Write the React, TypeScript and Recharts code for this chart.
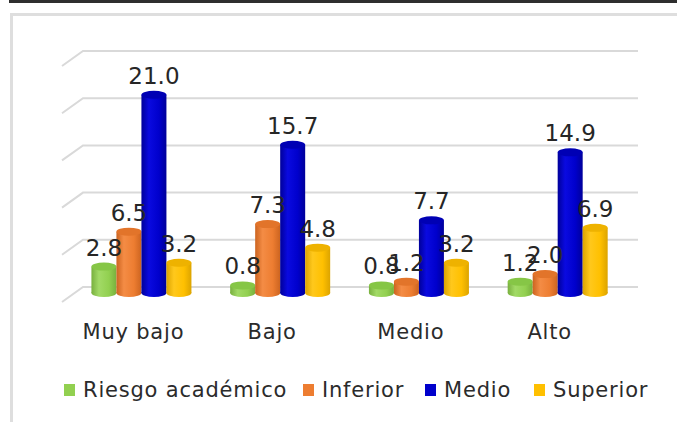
import { BarChart, Bar, XAxis, YAxis, CartesianGrid, LabelList } from "recharts";

const categories = ["Muy bajo", "Bajo", "Medio", "Alto"];
const riesgo = [2.8, 0.8, 0.8, 1.2];
const inferior = [6.5, 7.3, 1.2, 2.0];
const medio = [21.0, 15.7, 7.7, 14.9];
const superior = [3.2, 4.8, 3.2, 6.9];
const yTicks = [0, 5, 10, 15, 20, 25];

const series = [
  { key: "riesgo", name: "Riesgo académico", values: riesgo, color: "#92d050", light: "#a2da66", dark: "#78b03e", top: "#86c646" },
  { key: "inferior", name: "Inferior", values: inferior, color: "#ed7d31", light: "#f48c45", dark: "#cc6420", top: "#e2742a" },
  { key: "medio", name: "Medio", values: medio, color: "#0000cc", light: "#0a0ae0", dark: "#00009a", top: "#0000b4" },
  { key: "superior", name: "Superior", values: superior, color: "#ffc000", light: "#ffc81c", dark: "#dca400", top: "#eeb200" },
];

const data = categories.map((cat, i) => {
  const row: Record<string, string | number> = { cat };
  series.forEach((s) => (row[s.key] = s.values[i]));
  return row;
});

// legend item widths, to mimic the office layout
const legendWidths = [239, 122, 109, 120];

const FONT = "'DejaVu Sans', Verdana, sans-serif";
const TEXT = "#2b2b2b";

function Cylinder(props: any) {
  const { x, y, width, height, s } = props;
  if (width == null || height == null) return null;
  const rx = width / 2;
  const ry = 4;
  const cx = x + rx;
  return (
    <g>
      <ellipse cx={cx} cy={y + height} rx={rx} ry={ry} fill={`url(#cyl-${s.key})`} />
      <rect x={x} y={y} width={width} height={height} fill={`url(#cyl-${s.key})`} />
      <ellipse cx={cx} cy={y} rx={rx} ry={ry} fill={s.top} />
    </g>
  );
}

function GridLine(props: any) {
  const { x1, x2, y1, key } = props;
  const bx = 11;
  const by = 6;
  return (
    <path
      key={key}
      d={`M${x1 - 10},${y1 + 9} L${x1 + bx},${y1 - by} L${x2 + bx},${y1 - by}`}
      stroke="#d9d9d9"
      strokeWidth={2}
      fill="none"
    />
  );
}

function CatTick(props: any) {
  const { x, y, payload } = props;
  return (
    <text
      x={x - 8}
      y={y + 46}
      textAnchor="middle"
      fill={TEXT}
      fontSize={21}
      fontFamily={FONT}
      letterSpacing={0.8}
    >
      {payload.value}
    </text>
  );
}

export default function App() {
  return (
    <div
      style={{
        position: "absolute",
        left: 0,
        top: 0,
        width: 677,
        height: 422,
        background: "#fff",
        overflow: "hidden",
      }}
    >
      <div style={{ position: "absolute", left: 9, top: 0, width: 668, height: 3, background: "#2e2e2e" }} />
      <div
        style={{
          position: "absolute",
          left: 10,
          top: 13,
          width: 700,
          height: 440,
          borderLeft: "3px solid #dedede",
          borderTop: "3px solid #dedede",
        }}
      />
      <div style={{ position: "absolute", left: 0, top: 0 }}>
        <BarChart
          width={677}
          height={422}
          data={data}
          margin={{ top: 57, left: 72, right: 50, bottom: 99 }}
          barGap={0}
          barCategoryGap="14%"
        >
          <defs>
            {series.map((s) => (
              <linearGradient key={s.key} id={`cyl-${s.key}`} x1="0" y1="0" x2="1" y2="0">
                <stop offset="0" stopColor={s.dark} />
                <stop offset="0.3" stopColor={s.light} />
                <stop offset="0.7" stopColor={s.color} />
                <stop offset="1" stopColor={s.dark} />
              </linearGradient>
            ))}
          </defs>
          <CartesianGrid vertical={false} horizontal={(p: any) => <GridLine {...p} />} />
          <YAxis hide domain={[0, 25]} ticks={yTicks} />
          <XAxis
            dataKey="cat"
            axisLine={false}
            tickLine={false}
            tickSize={0}
            tickMargin={0}
            tick={<CatTick />}
            interval={0}
          />
          {series.map((s) => (
            <Bar
              key={s.key}
              dataKey={s.key}
              name={s.name}
              fill={s.color}
              isAnimationActive={false}
              shape={(p: any) => <Cylinder {...p} s={s} />}
            >
              <LabelList
                dataKey={s.key}
                position="top"
                offset={11}
                formatter={(v: any) => Number(v).toFixed(1)}
                fill="#262626"
                fontSize={23}
                fontFamily={FONT}
              />
            </Bar>
          ))}
        </BarChart>
      </div>
      <div
        style={{
          position: "absolute",
          left: 64,
          top: 378,
          display: "flex",
          fontFamily: FONT,
          fontSize: 21,
          letterSpacing: 0.8,
          color: TEXT,
          lineHeight: "24px",
        }}
      >
        {series.map((s, i) => (
          <div key={s.key} style={{ display: "flex", alignItems: "center", width: legendWidths[i] }}>
            <span style={{ display: "inline-block", width: 11, height: 12, background: s.color, marginRight: 8 }} />
            <span style={{ whiteSpace: "nowrap" }}>{s.name}</span>
          </div>
        ))}
      </div>
    </div>
  );
}
